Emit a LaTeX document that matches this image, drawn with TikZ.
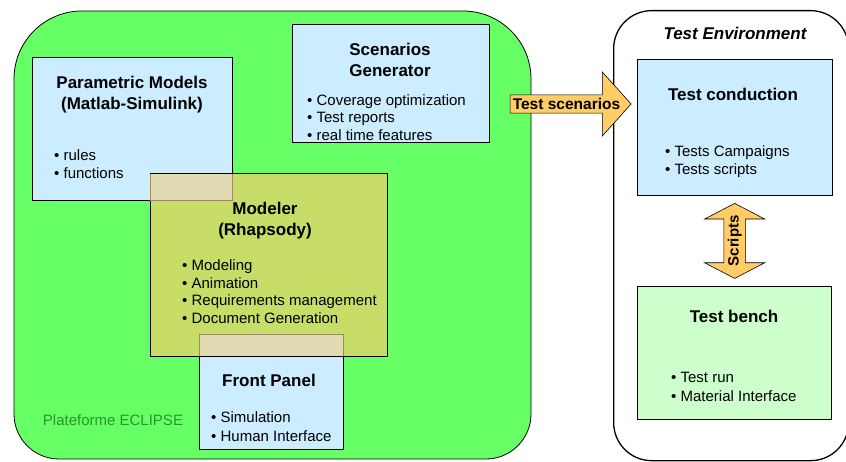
\documentclass[tikz,border=0pt]{standalone}
\usepackage{fontspec}
\setmainfont{Liberation Sans}
\usetikzlibrary{shapes.arrows,positioning,calc}
\definecolor{platgreen}{RGB}{102,255,102}
\definecolor{boxblue}{RGB}{204,236,255}
\definecolor{benchgreen}{RGB}{204,255,204}
\definecolor{modelercolor}{RGB}{200,220,104}
\definecolor{overlapcolor}{RGB}{226,218,178}
\definecolor{overlapedge}{RGB}{160,136,96}
\definecolor{arrowcolor}{RGB}{255,204,102}
\definecolor{eclipsetext}{RGB}{40,150,40}

\begin{document}
\begin{tikzpicture}[
    x=1pt, y=-1pt,
    box/.style={draw, line width=0.8pt, inner sep=0pt, anchor=north west},
    overlap/.style={fill=overlapcolor, draw=overlapedge, line width=0.8pt, inner sep=0pt, anchor=north west},
    title/.style={font=\fontsize{17}{21}\selectfont\bfseries, align=center, inner sep=0pt},
    items/.style={font=\fontsize{15}{18}\selectfont, align=left, anchor=west, inner sep=0pt},
    blockarrow/.style={draw, fill=arrowcolor, line width=0.6pt, inner sep=0pt, font=\fontsize{15.5}{17}\selectfont\bfseries}
]
    \useasboundingbox (0,0) rectangle (846,462);

    % Plateforme ECLIPSE area
    \draw[fill=platgreen, line width=0.8pt] (14,240) [rounded corners=68] -- (14,11) -- (531,11) -- (531,240)
        [rounded corners=45] -- (531,459) -- (14,459) -- cycle;
    \node[font=\fontsize{15}{17}\selectfont, text=eclipsetext] (eclipse) at (113,420) {Plateforme ECLIPSE};

    % Boxes - left part
    \node[box, fill=boxblue, minimum width=200, minimum height=143] (param) at (32,57) {};
    \node[box, fill=boxblue, minimum width=197, minimum height=118] (scen) at (292,24) {};
    \node[box, fill=modelercolor, minimum width=237, minimum height=183] (modeler) at (150,173) {};
    \node[overlap, minimum width=82, minimum height=27] (ovlparam) at (150,173) {};
    \draw[line width=0.8pt] (ovlparam.north west) -- (ovlparam.north east);
    \node[box, fill=boxblue, minimum width=144, minimum height=115] (front) at (199,334) {};
    \node[overlap, minimum width=144, minimum height=22] (ovlfront) at (199,334) {};
    \draw[line width=0.8pt] (ovlfront.south west) -- (ovlfront.south east);

    % Texts - left part
    \node[title] (paramtitle) at (132,94.5) {Parametric Models\\(Matlab-Simulink)};
    \node[items] (paramitems) at (54,164) {• rules\\• functions};
    \node[title] (scentitle) at (390,60) {Scenarios\\Generator};
    \node[items, font=\fontsize{15}{17.5}\selectfont] (scenitems) at (307,117.5) {• Coverage optimization\\• Test reports\\• real time features};
    \node[title] (modelertitle) at (265,220.5) {Modeler\\(Rhapsody)};
    \node[items, font=\fontsize{15}{17.7}\selectfont] (modeleritems) at (182,291.5) {• Modeling\\• Animation\\• Requirements management\\• Document Generation};
    \node[title] (fronttitle) at (269,380) {Front Panel};
    \node[items, font=\fontsize{15}{19}\selectfont] (frontitems) at (211,426.5) {• Simulation\\• Human Interface};

    % Test Environment
    \node[box, line width=1.3pt, rounded corners=38, minimum width=235, minimum height=450] (testenv) at (613,10) {};
    \node[font=\fontsize{17}{20}\selectfont\bfseries\itshape] (envtitle) at (735,33) {Test Environment};
    \node[box, fill=boxblue, minimum width=195, minimum height=136] (conduct) at (637,59) {};
    \node[box, fill=benchgreen, minimum width=194, minimum height=133] (bench) at (637,286) {};
    \node[title] (conducttitle) at (733,94) {Test conduction};
    \node[items] (conductitems) at (665,162) {• Tests Campaigns\\• Tests scripts};
    \node[title] (benchtitle) at (734,316) {Test bench};
    \node[items, font=\fontsize{15}{19}\selectfont] (benchitems) at (671,386.5) {• Test run\\• Material Interface};

    % Arrows
    \node[blockarrow, single arrow, single arrow head extend=15, single arrow tip angle=96,
        minimum height=121, minimum width=64] (scenarrow) at (566.5,104) {Test scenarios};
    \node[blockarrow, double arrow, double arrow head extend=13, double arrow tip angle=125,
        minimum height=75, minimum width=60, rotate=90, font=\fontsize{15}{17}\selectfont\bfseries]
        (scripts) at ($(conduct.south)!0.5!(bench.north)$) {Scripts};
\end{tikzpicture}
\end{document}
